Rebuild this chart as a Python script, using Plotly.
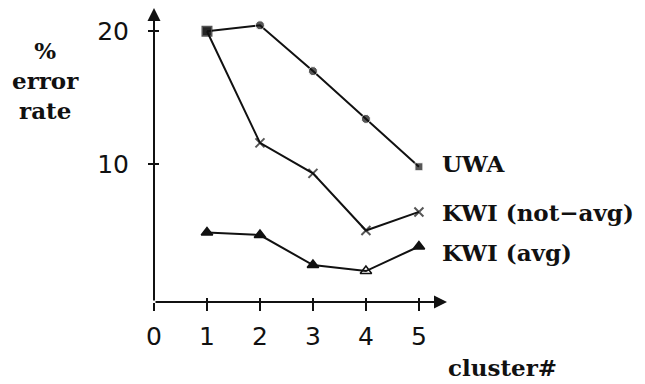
import plotly.graph_objects as go

clusters = [1, 2, 3, 4, 5]
uwa = [20.0, 20.45, 17.0, 13.4, 9.8]
kwi_not_avg = [20.0, 11.6, 9.3, 5.0, 6.4]
kwi_avg = [4.86, 4.66, 2.4, 1.95, 3.8]

x_ticks = [0, 1, 2, 3, 4, 5]
y_ticks = [10, 20]

X_RANGE = [0, 5.53]
Y_RANGE = [-0.38, 21.75]

SERIF = "DejaVu Serif"
SANS = "DejaVu Sans"
INK = "#111111"

fig = go.Figure()

fig.add_trace(go.Scatter(
    x=clusters, y=uwa, mode="lines+markers",
    line=dict(color=INK, width=2),
    marker=dict(symbol=["square", "circle", "circle", "circle", "square"],
                size=[9, 9, 9, 9, 8], color=INK),
    showlegend=False, name="UWA"))
fig.add_trace(go.Scatter(
    x=clusters, y=kwi_not_avg, mode="lines+markers",
    line=dict(color=INK, width=2),
    marker=dict(symbol=["square", "x-thin", "x-thin", "x-thin", "x-thin"],
                size=[9, 9, 9, 9, 9], color=INK,
                line=dict(color=INK, width=2)),
    showlegend=False, name="KWI (not-avg)"))
fig.add_trace(go.Scatter(
    x=clusters, y=kwi_avg, mode="lines+markers",
    line=dict(color=INK, width=2),
    marker=dict(symbol=["triangle-up", "triangle-up", "triangle-up", "triangle-up-open", "triangle-up"],
                size=10, color=INK, line=dict(color=INK, width=1.5)),
    showlegend=False, name="KWI (avg)"))

# series labels anchored at each series' last point
labels = [("UWA", uwa, 3), ("KWI (not\u2212avg)", kwi_not_avg, -1), ("KWI (avg)", kwi_avg, -6)]
for text, ys, dy in labels:
    fig.add_annotation(x=clusters[-1], y=ys[-1], text=text, showarrow=False,
                       xanchor="left", yanchor="middle", xshift=21, yshift=dy,
                       font=dict(family=SERIF, size=23, color=INK, weight="bold"))

# axis arrows
fig.add_annotation(x=X_RANGE[1], y=Y_RANGE[0], ax=X_RANGE[0], ay=Y_RANGE[0],
                   xref="x", yref="y", axref="x", ayref="y", text="",
                   showarrow=True, arrowhead=2, arrowsize=1.3, arrowwidth=2, arrowcolor=INK)
fig.add_annotation(x=X_RANGE[0], y=Y_RANGE[1], ax=X_RANGE[0], ay=Y_RANGE[0],
                   xref="x", yref="y", axref="x", ayref="y", text="",
                   showarrow=True, arrowhead=2, arrowsize=1.3, arrowwidth=2, arrowcolor=INK)

# y axis title
fig.add_annotation(xref="paper", yref="paper", x=-0.369, y=0.755, text="%<br>error<br>rate",
                   showarrow=False, xanchor="center", yanchor="middle", align="center",
                   font=dict(family=SERIF, size=23, color=INK, weight="bold"))
# x axis title
fig.add_annotation(xref="paper", yref="paper", x=0.997, y=-0.224, text="cluster#",
                   showarrow=False, xanchor="left", yanchor="middle",
                   font=dict(family=SERIF, size=23, color=INK, weight="bold"))

# page body adds an 8px offset, so the figure is 8px smaller and margins shifted
fig.update_layout(
    width=637, height=376,
    margin=dict(l=146, r=637 - 146 - 293, t=0, b=82, autoexpand=False),
    plot_bgcolor="white", paper_bgcolor="white",
    xaxis=dict(range=X_RANGE, tickmode="array", tickvals=x_ticks,
               ticktext=[str(v) for v in x_ticks],
               ticks="outside", ticklen=8, tickwidth=1.5, tickcolor=INK,
               showgrid=False, zeroline=False, showline=False, automargin=False,
               ticklabelstandoff=4,
               tickfont=dict(family=SANS, size=25, color=INK)),
    yaxis=dict(range=Y_RANGE, tickmode="array", tickvals=y_ticks,
               ticks="outside", ticklen=5, tickwidth=1.5, tickcolor=INK,
               showgrid=False, zeroline=False, showline=False, automargin=False,
               ticklabelstandoff=14,
               tickfont=dict(family=SANS, size=25, color=INK)),
    xaxis2=dict(range=X_RANGE, overlaying="x", tickmode="array", tickvals=x_ticks[1:],
                ticks="inside", ticklen=4, tickwidth=1.5, tickcolor=INK, automargin=False,
                showticklabels=False, showgrid=False, zeroline=False, side="bottom"),
    yaxis2=dict(range=Y_RANGE, overlaying="y", tickmode="array", tickvals=y_ticks,
                ticks="inside", ticklen=5, tickwidth=1.5, tickcolor=INK, automargin=False,
                showticklabels=False, showgrid=False, zeroline=False, side="left"),
)
# invisible trace to activate the overlay axes
fig.add_trace(go.Scatter(x=[None], y=[None], xaxis="x2", yaxis="y2", showlegend=False, hoverinfo="skip"))

fig.write_html("out.html")
